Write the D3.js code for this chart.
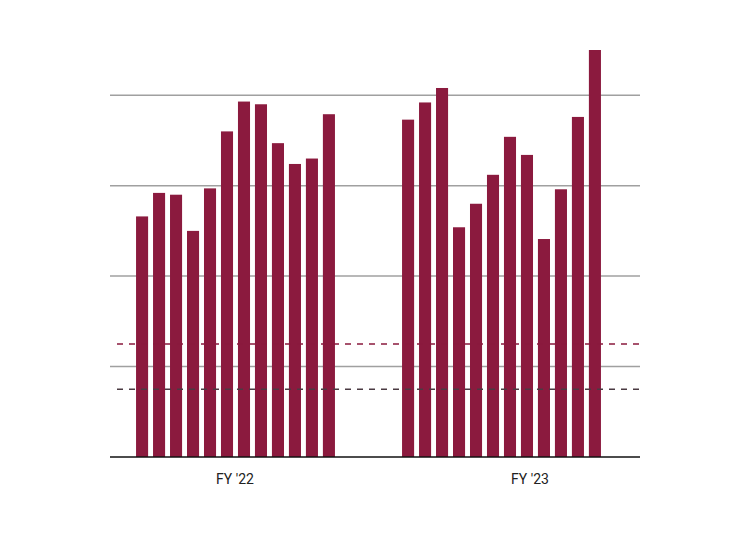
<!DOCTYPE html>
<html>
<head>
<meta charset="utf-8">
<script src="https://cdn.jsdelivr.net/npm/d3@7"></script>
<style>
body { margin: 0; background: #fff; }
text { font-family: Roboto, sans-serif; }
</style>
</head>
<body>
<svg width="750" height="540"></svg>
<script>
// values, in grid units
var fy22 = [2.66, 2.92, 2.90, 2.50, 2.97, 3.60, 3.93, 3.90, 3.47, 3.24, 3.30, 3.79];
var fy23 = [3.73, 3.92, 4.08, 2.54, 2.80, 3.12, 3.54, 3.34, 2.41, 2.96, 3.76, 4.50];
var groups = ["FY '22", "FY '23"];
var gridValues = [1, 2, 3, 4];
var refLines = [1.25, 0.75];
var refColors = ["#8b1a3e", "#4a3a42"];

var svg = d3.select("svg");

var y = d3.scaleLinear().domain([0, 4.5]).range([457, 50]);
var groupX = d3.scaleOrdinal().domain(groups).range([133.5, 399.5]);
var labelX = d3.scaleOrdinal().domain(groups).range([235, 530]);
var monthX = d3.scaleBand().domain(d3.range(12)).range([0, 204]).paddingInner(0.29).paddingOuter(0.15);

svg.selectAll(".grid")
    .data(gridValues)
    .enter()
    .append("line")
    .attr("x1", 110).attr("x2", 640)
    .attr("y1", function(d){ return y(d) })
    .attr("y2", function(d){ return y(d) })
    .attr("stroke", "#a0a0a0")
    .attr("stroke-width", 1.5);

var series = [fy22, fy23];
groups.forEach(function(g, gi)
{
    svg.append("g")
        .attr("transform", "translate(" + groupX(g) + ",0)")
        .selectAll("rect")
        .data(series[gi])
        .enter()
        .append("rect")
        .attr("x", function(d, i){ return monthX(i) })
        .attr("width", monthX.bandwidth())
        .attr("y", function(d){ return y(d) })
        .attr("height", function(d){ return y(0) - y(d) })
        .attr("fill", "#8b1a3e");
});

svg.selectAll(".ref")
    .data(refLines)
    .enter()
    .append("line")
    .attr("x1", 117).attr("x2", 640)
    .attr("y1", function(d){ return y(d) })
    .attr("y2", function(d){ return y(d) })
    .attr("stroke", function(d, i){ return refColors[i] })
    .attr("stroke-width", 1.5)
    .attr("stroke-dasharray", "6,6");

svg.append("line")
    .attr("x1", 110).attr("x2", 640)
    .attr("y1", y(0)).attr("y2", y(0))
    .attr("stroke", "#111")
    .attr("stroke-width", 1.5);

svg.selectAll(".lab")
    .data(groups)
    .enter()
    .append("text")
    .attr("x", function(d){ return labelX(d) })
    .attr("y", 484)
    .attr("text-anchor", "middle")
    .attr("font-size", 14)
    .attr("fill", "#222")
    .text(function(d){ return d });
</script>
</body>
</html>
